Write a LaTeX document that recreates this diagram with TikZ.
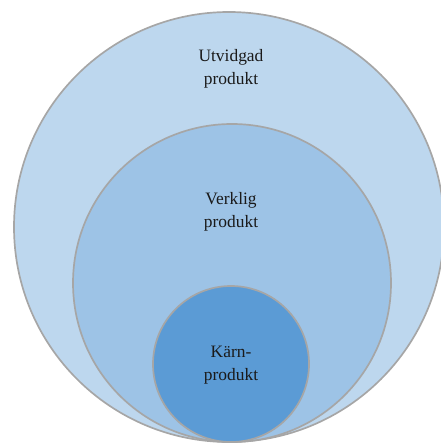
\documentclass[tikz,border=0pt]{standalone}
\usepackage{fontspec}
\setmainfont{Liberation Serif}
\definecolor{outerblue}{HTML}{BDD7EE}
\definecolor{midblue}{HTML}{9DC3E6}
\definecolor{coreblue}{HTML}{5B9BD5}
\definecolor{rim}{HTML}{A6A6A6}
\definecolor{ink}{HTML}{1A1A1A}
\usepackage{tikz}
\usetikzlibrary{positioning}
\tikzset{
  ring/.style={draw=rim, line width=1.2pt},
  lbl/.style={align=center, text=ink, font=\fontsize{12.4}{16.4}\selectfont, inner sep=0pt},
}
\begin{document}
\begin{tikzpicture}
        \useasboundingbox (0,0) rectangle (11,-11.125);
        \draw[ring,fill=outerblue] (5.725,-5.675) circle (5.375);
        \draw[ring,fill=midblue] (5.8,-7.075) circle (3.975);
        \draw[ring,fill=coreblue] (5.775,-9.1) circle (1.95);
        \node[lbl] (utvidgad) at (5.775,-1.71) {Utvidgad\\produkt};
        \node[lbl] (verklig) at (5.775,-5.29) {Verklig\\produkt};
        \node[lbl] (karn) at (5.775,-9.125) {Kärn-\\produkt};
      \end{tikzpicture}
\end{document}
